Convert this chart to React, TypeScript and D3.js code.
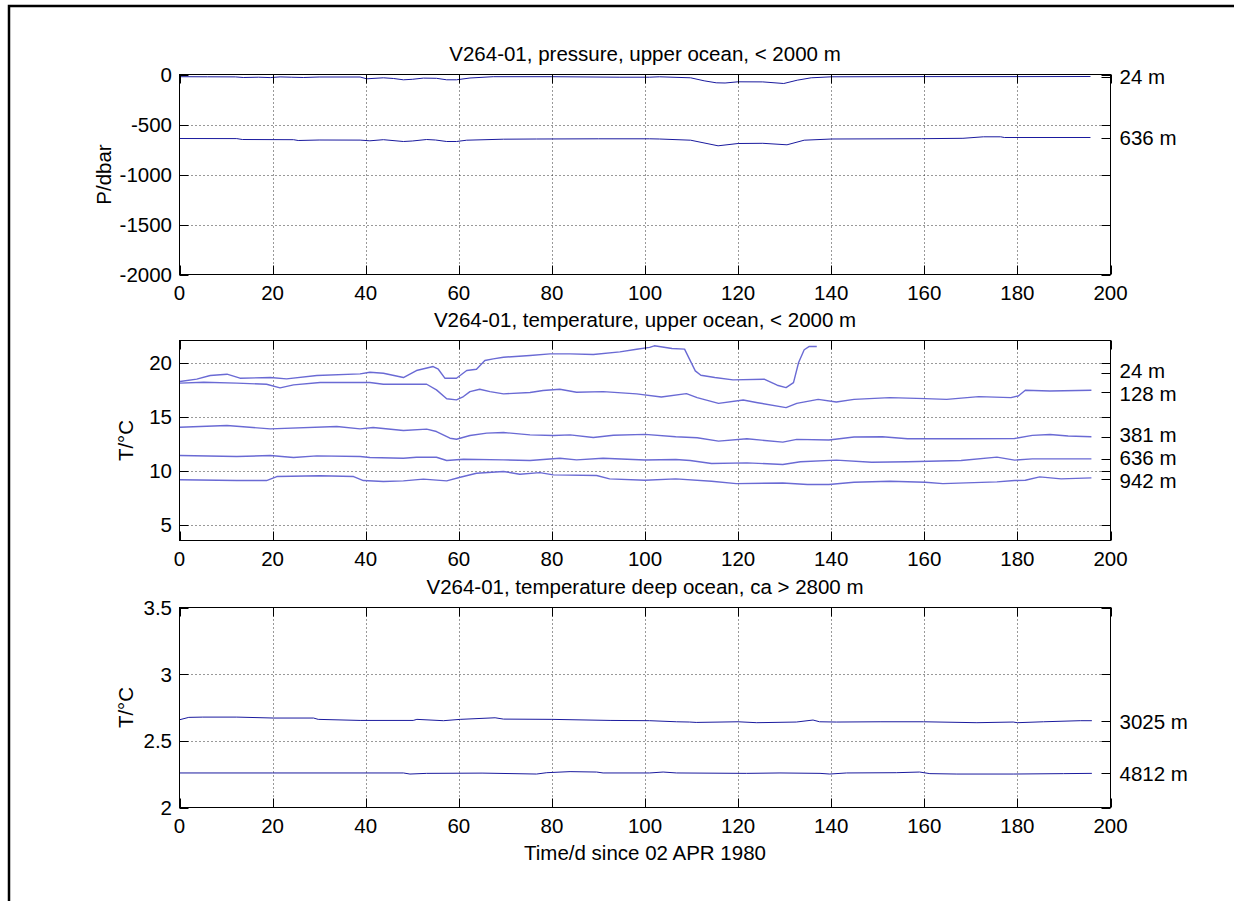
import React from 'react';
import * as d3 from 'd3';

// ---------- data ----------
const dayTicks = [0, 20, 40, 60, 80, 100, 120, 140, 160, 180, 200];

const pressureTicks = [0, -500, -1000, -1500, -2000];
const upperTempTicks = [5, 10, 15, 20];
const deepTempTicks = [2, 2.5, 3, 3.5];

const titles = [
  'V264-01, pressure, upper ocean, < 2000 m',
  'V264-01, temperature, upper ocean, < 2000 m',
  'V264-01, temperature deep ocean, ca > 2800 m',
];
const yLabels = ['P/dbar', 'T/°C', 'T/°C'];
const xLabel = 'Time/d since 02 APR 1980';

// pressure, [day, dbar]
const pressure24: [number, number][] = [
  [0, -22], [6, -23], [12, -24], [13.7, -30], [17, -27], [19.5, -31], [21.6, -24], [24, -27],
  [26.6, -30], [30, -25], [38.8, -25], [40.2, -43], [42, -38], [43.8, -33], [46, -40], [48.1, -53],
  [50, -48], [52.4, -36], [55.2, -38], [57.4, -53], [59.5, -53], [62.4, -35], [67.4, -22], [80, -22],
  [94.6, -27], [101, -27], [103.1, -23], [109.8, -33], [112.7, -63], [115.3, -83], [117.2, -85],
  [120, -73], [125.3, -74], [129.8, -90], [132.7, -57], [135.7, -33], [140.1, -23], [160, -21],
  [180, -21], [195.7, -20],
];
const pressure636: [number, number][] = [
  [0, -640], [12.3, -641], [13.5, -650], [24.5, -652], [25.5, -660], [30, -655], [38.8, -656],
  [40.9, -663], [43.8, -652], [48.1, -670], [50, -665], [53.1, -650], [55, -655], [57.4, -670],
  [59.5, -670], [61.7, -657], [69.6, -647], [76.7, -645], [90, -643], [101, -643], [103.1, -645],
  [109.8, -657], [115.7, -713], [120, -690], [125.3, -688], [130.5, -703], [134.2, -657],
  [140.1, -645], [159.4, -642], [168.3, -638], [172.7, -623], [176.4, -623], [177.2, -630],
  [195.7, -630],
];

// upper-ocean temperature, [day, °C]
const temp24: [number, number][] = [
  [0.1, 18.24], [3.7, 18.46], [6.6, 18.8], [10.2, 18.92], [13, 18.55], [19.5, 18.61], [23, 18.49],
  [29.5, 18.8], [38.8, 18.95], [40.9, 19.1], [43.8, 19.01], [48.1, 18.61], [50.9, 19.26],
  [54.5, 19.63], [55.6, 19.38], [57, 18.55], [59.5, 18.55], [61.7, 19.26], [63.8, 19.38],
  [65.6, 20.19], [67.4, 20.34], [69.6, 20.49], [75.3, 20.65], [79.6, 20.8], [83.9, 20.8],
  [88.9, 20.74], [94.6, 20.99], [98.2, 21.23], [101, 21.4], [102, 21.55], [105.8, 21.3],
  [108.5, 21.24], [110.8, 19.23], [112, 18.82], [115, 18.61], [118.9, 18.39], [125.7, 18.45],
  [128.4, 17.9], [130.3, 17.68], [131.9, 18.14], [133, 20.0], [134.2, 21.18], [135.3, 21.49],
  [136.9, 21.49],
];
const temp128: [number, number][] = [
  [0.1, 18.09], [5.2, 18.18], [12.3, 18.09], [18.7, 17.99], [21.6, 17.65], [24.5, 17.93],
  [30.2, 18.15], [40.9, 18.15], [43.8, 17.99], [53.1, 17.99], [55.2, 17.47], [57.4, 16.64],
  [59.5, 16.54], [61, 16.85], [62.4, 17.31], [64.5, 17.53], [66.7, 17.31], [69.6, 17.1],
  [75.3, 17.22], [78.1, 17.41], [81.7, 17.53], [85.3, 17.25], [91, 17.31], [98.2, 17.1],
  [103.5, 16.81], [108.9, 17.12], [111.2, 16.75], [115.8, 16.22], [121.1, 16.53], [124.2, 16.28],
  [130.3, 15.82], [132.6, 16.22], [137.2, 16.59], [141.1, 16.35], [144.9, 16.59], [152.6, 16.75],
  [160.2, 16.66], [164.8, 16.59], [171.7, 16.84], [178.6, 16.75], [180.2, 16.9], [181.7, 17.43],
  [187, 17.37], [195.9, 17.43],
];
const temp381: [number, number][] = [
  [0.1, 14.01], [10.2, 14.17], [19.5, 13.86], [33.8, 14.07], [38.8, 13.86], [41.6, 13.98],
  [48.1, 13.7], [53.1, 13.83], [55.2, 13.61], [58.1, 12.99], [59.5, 12.9], [62.4, 13.24],
  [66, 13.46], [69.6, 13.52], [75.3, 13.3], [80.3, 13.24], [83.9, 13.3], [88.9, 13.06],
  [93.2, 13.27], [100, 13.35], [106.6, 13.13], [111.2, 13.03], [115.8, 12.72], [121.9, 12.94],
  [129.6, 12.63], [132.6, 12.88], [139.5, 12.82], [144.9, 13.1], [151, 13.13], [156.4, 12.94],
  [167.9, 12.94], [179.4, 12.97], [183.2, 13.25], [187, 13.34], [190.9, 13.19], [195.9, 13.13],
];
const temp636: [number, number][] = [
  [0.1, 11.39], [12.3, 11.3], [19.5, 11.39], [24.5, 11.2], [29.5, 11.36], [38.8, 11.3],
  [40.9, 11.2], [48.1, 11.14], [50.9, 11.23], [55.2, 11.23], [57.4, 10.93], [61, 11.05],
  [69.6, 10.99], [75.3, 10.93], [81.7, 11.14], [85.3, 10.99], [91, 11.14], [100, 10.98],
  [106.6, 11.02], [109.7, 10.93], [114.3, 10.65], [121.9, 10.71], [129.6, 10.56], [133.4, 10.81],
  [141.1, 10.96], [148.7, 10.77], [156.4, 10.81], [167.9, 10.93], [175.6, 11.24], [179.4, 10.96],
  [183.2, 11.08], [195.9, 11.08],
];
const temp942: [number, number][] = [
  [0.1, 9.14], [12.3, 9.07], [18.7, 9.07], [20.9, 9.44], [30.2, 9.51], [37.4, 9.44], [39.5, 9.07],
  [43.8, 8.98], [48.1, 9.04], [52.4, 9.2], [57.4, 9.04], [60.3, 9.38], [63.8, 9.75], [69.6, 9.91],
  [73.1, 9.66], [77.4, 9.81], [80.3, 9.6], [89.6, 9.54], [92.4, 9.23], [100, 9.1], [106.6, 9.23],
  [114.3, 9.01], [119.6, 8.79], [129.6, 8.85], [134.9, 8.7], [139.5, 8.7], [144.9, 8.92],
  [152.6, 9.01], [160.2, 8.92], [164, 8.79], [175.6, 8.95], [179.4, 9.07], [181.7, 9.1],
  [184.8, 9.41], [189.4, 9.23], [195.9, 9.32],
];

// deep-ocean temperature, [day, °C]
const temp3025: [number, number][] = [
  [0, 2.658], [2, 2.676], [5, 2.678], [12.3, 2.678], [20.2, 2.671], [28.8, 2.671], [29.8, 2.661],
  [38.8, 2.653], [50.2, 2.653], [51, 2.661], [56.7, 2.651], [60.3, 2.661], [67.8, 2.673],
  [69.6, 2.663], [80, 2.661], [92.5, 2.653], [101, 2.651], [106.8, 2.643], [109.6, 2.641],
  [111, 2.638], [120, 2.643], [124, 2.636], [132.5, 2.641], [136.1, 2.656], [137.5, 2.643],
  [141.1, 2.641], [150.5, 2.643], [159.8, 2.643], [171.3, 2.636], [179.1, 2.641], [180, 2.636],
  [185.6, 2.643], [193.5, 2.651], [196, 2.651],
];
const temp4812: [number, number][] = [
  [0, 2.259], [20, 2.259], [48.1, 2.259], [49.5, 2.251], [53.1, 2.256], [65, 2.258], [76.7, 2.251],
  [78.9, 2.261], [83.9, 2.269], [89.6, 2.266], [91, 2.259], [101, 2.259], [103.9, 2.266],
  [106.8, 2.259], [121.8, 2.256], [129, 2.259], [137.6, 2.256], [139.7, 2.251], [143.3, 2.259],
  [154, 2.261], [159, 2.266], [161.2, 2.254], [167, 2.251], [179.1, 2.251], [189.9, 2.254],
  [196, 2.256],
];

// right-hand depth labels: [text, value]
const pressureDepthLabels: [string, number][] = [['24 m', -24], ['636 m', -636]];
const upperDepthLabels: [string, number][] = [
  ['24 m', 19.07], ['128 m', 17.28], ['381 m', 13.13], ['636 m', 11.08], ['942 m', 9.26],
];
const deepDepthLabels: [string, number][] = [['3025 m', 2.646], ['4812 m', 2.256]];

// ---------- layout ----------
const W = 1234;
const H = 901;
const LEFT = 179.5;
const RIGHT = 1110.5;
const PH = 200;
const FONT = '"Liberation Sans", Arial, Helvetica, sans-serif';
const FS = 20.5;
const LABEL_GAP = 23; // minimum vertical distance between right-hand label centres
const TICK = 9;

type PanelProps = {
  top: number;
  domain: [number, number];
  ticks: number[];
  series: [number, number][][];
  labels: [string, number][];
  title: string;
  ylabel: string;
  ylabelX: number;
  lineColor: string;
  lineWidth: number;
  xlabel?: string;
};

// spread label centres so neighbouring texts do not collide
function spreadLabels(ys: number[]): number[] {
  const order = ys.map((v, i) => i).sort((a, b) => ys[a] - ys[b]);
  const out = ys.slice();
  for (let pass = 0; pass < 20; pass++) {
    let moved = false;
    for (let k = 1; k < order.length; k++) {
      const a = order[k - 1];
      const b = order[k];
      const d = out[b] - out[a];
      if (d < LABEL_GAP) {
        const push = (LABEL_GAP - d) / 2;
        out[a] -= push;
        out[b] += push;
        moved = true;
      }
    }
    if (!moved) break;
  }
  return out;
}

function Panel(p: PanelProps) {
  const x = d3.scaleLinear().domain([0, 200]).range([LEFT, RIGHT]);
  const y = d3.scaleLinear().domain(p.domain).range([p.top + PH, p.top]);
  const line = d3
    .line<[number, number]>()
    .x((d) => x(d[0]))
    .y((d) => y(d[1]));
  const bottom = p.top + PH;
  const fmt = (v: number) => String(v);
  const inner = (v: number) => v > p.domain[0] + 1e-9 && v < p.domain[1] - 1e-9;
  const labelYs = spreadLabels(p.labels.map(([, v]) => y(v)));
  const snap = (v: number) => Math.round(v) + 0.5;
  return (
    <g>
      {/* grid */}
      {dayTicks.filter((t) => t > 0 && t < 200).map((t) => (
        <line key={'gx' + t} x1={snap(x(t))} x2={snap(x(t))} y1={p.top} y2={bottom}
          stroke="#333" strokeWidth={1} strokeDasharray="1 3" />
      ))}
      {p.ticks.filter(inner).map((t) => (
        <line key={'gy' + t} x1={LEFT} x2={RIGHT} y1={snap(y(t))} y2={snap(y(t))}
          stroke="#333" strokeWidth={1} strokeDasharray="1 3" />
      ))}
      {/* series */}
      {p.series.map((s, i) => (
        <path key={'s' + i} d={line(s) || ''} fill="none" stroke={p.lineColor}
          strokeWidth={p.lineWidth} strokeLinejoin="round" />
      ))}
      {/* box */}
      <rect x={LEFT} y={p.top} width={RIGHT - LEFT} height={PH} fill="none" stroke="#000" strokeWidth={1} />
      {/* x ticks */}
      {dayTicks.map((t) => (
        <g key={'xt' + t}>
          <line x1={snap(x(t))} x2={snap(x(t))} y1={bottom} y2={bottom - TICK} stroke="#000" />
          <line x1={snap(x(t))} x2={snap(x(t))} y1={p.top} y2={p.top + TICK} stroke="#000" />
          <text x={x(t)} y={bottom + 25} textAnchor="middle" fontFamily={FONT} fontSize={FS}>{fmt(t)}</text>
        </g>
      ))}
      {/* y ticks */}
      {p.ticks.map((t) => (
        <g key={'yt' + t}>
          <line x1={LEFT} x2={LEFT + TICK} y1={snap(y(t))} y2={snap(y(t))} stroke="#000" />
          <line x1={RIGHT - TICK} x2={RIGHT} y1={snap(y(t))} y2={snap(y(t))} stroke="#000" />
          <text x={172} y={y(t)} dy="0.36em" textAnchor="end" fontFamily={FONT} fontSize={FS}>{fmt(t)}</text>
        </g>
      ))}
      {/* right depth labels */}
      {p.labels.map(([txt, v], i) => (
        <g key={'rl' + txt}>
          <line x1={RIGHT - TICK} x2={RIGHT} y1={snap(y(v))} y2={snap(y(v))} stroke="#000" />
          <text x={RIGHT + 9} y={labelYs[i]} dy="0.36em" fontFamily={FONT} fontSize={FS}>{txt}</text>
        </g>
      ))}
      {/* title */}
      <text x={(LEFT + RIGHT) / 2} y={p.top - 14} textAnchor="middle" fontFamily={FONT} fontSize={FS}>{p.title}</text>
      {/* ylabel */}
      <text transform={`translate(${p.ylabelX},${p.top + PH / 2}) rotate(-90)`} textAnchor="middle"
        fontFamily={FONT} fontSize={FS}>{p.ylabel}</text>
      {p.xlabel && (
        <text x={(LEFT + RIGHT) / 2} y={bottom + 52} textAnchor="middle" fontFamily={FONT} fontSize={FS}>{p.xlabel}</text>
      )}
    </g>
  );
}

export default function App() {
  return (
    <svg width={W} height={H} style={{ position: 'absolute', left: 0, top: 0, background: '#fff' }}>
      <rect x={0} y={0} width={W} height={H} fill="#fff" />
      <rect x={9} y={6} width={W + 20} height={H + 20} fill="none" stroke="#000" strokeWidth={2.5} />
      <Panel top={74.5} domain={[-2000, 0]} ticks={pressureTicks} series={[pressure24, pressure636]}
        labels={pressureDepthLabels} title={titles[0]} ylabel={yLabels[0]} ylabelX={111}
        lineColor="#1a1a9e" lineWidth={1} />
      <Panel top={340.5} domain={[3.52, 22.04]} ticks={upperTempTicks}
        series={[temp24, temp128, temp381, temp636, temp942]}
        labels={upperDepthLabels} title={titles[1]} ylabel={yLabels[1]} ylabelX={133}
        lineColor="#6a6ad4" lineWidth={1.4} />
      <Panel top={607.5} domain={[2, 3.5]} ticks={deepTempTicks} series={[temp3025, temp4812]}
        labels={deepDepthLabels} title={titles[2]} ylabel={yLabels[2]} ylabelX={133}
        lineColor="#1a1a9e" lineWidth={1} xlabel={xLabel} />
    </svg>
  );
}
